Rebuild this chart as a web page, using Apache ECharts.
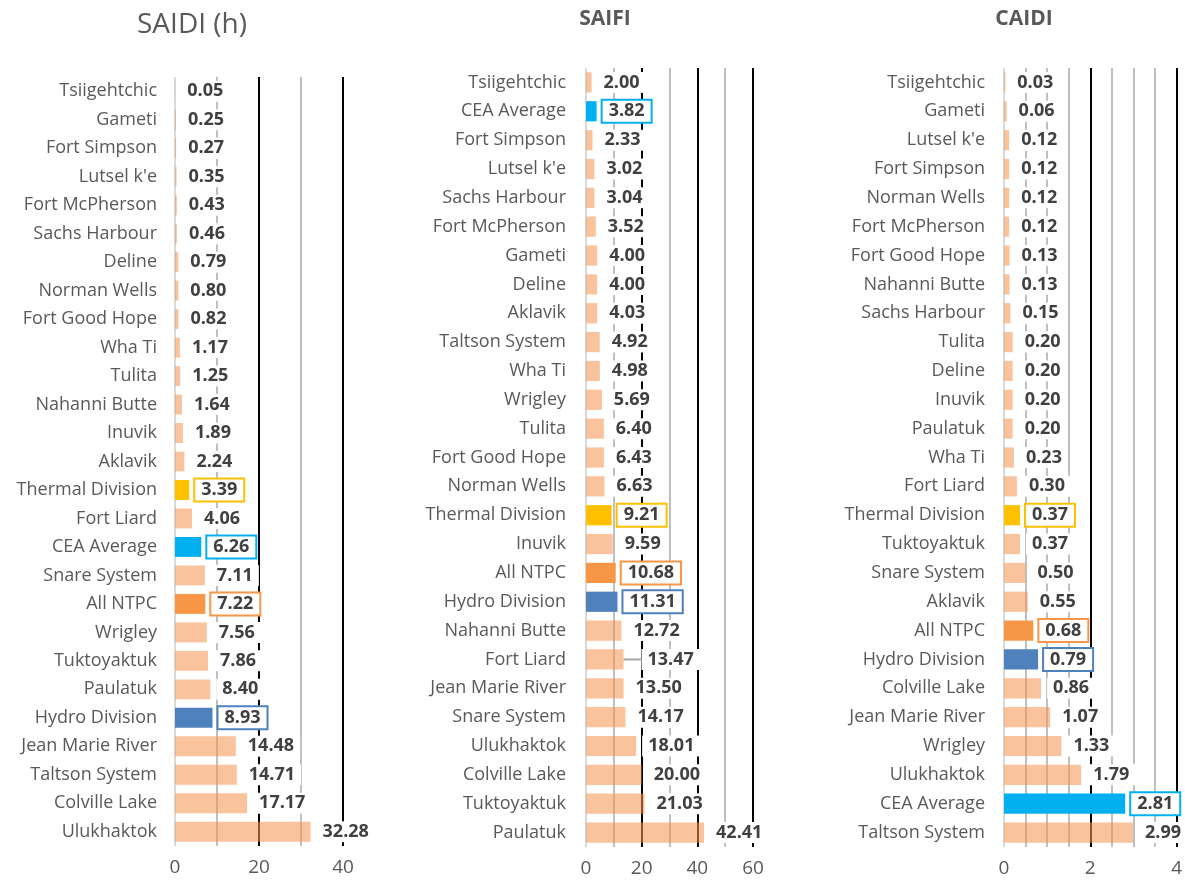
<!DOCTYPE html>
<html>
<head>
<meta charset="utf-8">
<script src="https://cdn.jsdelivr.net/npm/echarts@6/dist/echarts.min.js"></script>
<style>
html,body{margin:0;padding:0;background:#fff;}
#c{width:1185px;height:882px;}
</style>
</head>
<body>
<div id="c"></div>
<script>
// ---- Data ----
const saidiCategories = ["Tsiigehtchic","Gameti","Fort Simpson","Lutsel k'e","Fort McPherson","Sachs Harbour","Deline","Norman Wells","Fort Good Hope","Wha Ti","Tulita","Nahanni Butte","Inuvik","Aklavik","Thermal Division","Fort Liard","CEA Average","Snare System","All NTPC","Wrigley","Tuktoyaktuk","Paulatuk","Hydro Division","Jean Marie River","Taltson System","Colville Lake","Ulukhaktok"];
const saidiValues = [0.05,0.25,0.27,0.35,0.43,0.46,0.79,0.80,0.82,1.17,1.25,1.64,1.89,2.24,3.39,4.06,6.26,7.11,7.22,7.56,7.86,8.40,8.93,14.48,14.71,17.17,32.28];

const saifiCategories = ["Tsiigehtchic","CEA Average","Fort Simpson","Lutsel k'e","Sachs Harbour","Fort McPherson","Gameti","Deline","Aklavik","Taltson System","Wha Ti","Wrigley","Tulita","Fort Good Hope","Norman Wells","Thermal Division","Inuvik","All NTPC","Hydro Division","Nahanni Butte","Fort Liard","Jean Marie River","Snare System","Ulukhaktok","Colville Lake","Tuktoyaktuk","Paulatuk"];
const saifiValues = [2.00,3.82,2.33,3.02,3.04,3.52,4.00,4.00,4.03,4.92,4.98,5.69,6.40,6.43,6.63,9.21,9.59,10.68,11.31,12.72,13.47,13.50,14.17,18.01,20.00,21.03,42.41];

const caidiCategories = ["Tsiigehtchic","Gameti","Lutsel k'e","Fort Simpson","Norman Wells","Fort McPherson","Fort Good Hope","Nahanni Butte","Sachs Harbour","Tulita","Deline","Inuvik","Paulatuk","Wha Ti","Fort Liard","Thermal Division","Tuktoyaktuk","Snare System","Aklavik","All NTPC","Hydro Division","Colville Lake","Jean Marie River","Wrigley","Ulukhaktok","CEA Average","Taltson System"];
const caidiValues = [0.03,0.06,0.12,0.12,0.12,0.12,0.13,0.13,0.15,0.20,0.20,0.20,0.20,0.23,0.30,0.37,0.37,0.50,0.55,0.68,0.79,0.86,1.07,1.33,1.79,2.81,2.99];

const saidiTicks = [0, 20, 40];
const saifiTicks = [0, 20, 40, 60];
const caidiTicks = [0, 2, 4];

// ---- Styles ----
const highlightColors = {
  "Thermal Division": "#FFC000",
  "CEA Average": "#00B0F0",
  "All NTPC": "#F79646",
  "Hydro Division": "#4F81BD"
};
const baseBar = "rgba(244,150,82,0.57)";
const FONT = "Open Sans";
const G = "#bfbfbf", K = "#000000", Z = "#d9d9d9";

function buildData(cats, vals, nudgeName) {
  return vals.map((v, i) => {
    const name = cats[i];
    const hc = highlightColors[name];
    if (hc) {
      return {
        value: v,
        itemStyle: { color: hc },
        label: { borderColor: hc, borderWidth: 2 }
      };
    }
    if (name === nudgeName) {
      return { value: v, labelLine: { show: true, lineStyle: { color: "#a6a6a6", width: 2 } } };
    }
    return { value: v };
  });
}

function series(idx, cats, vals, nudgeName) {
  const nudgeIdx = cats.indexOf(nudgeName);
  return {
    type: "bar",
    xAxisIndex: idx,
    yAxisIndex: idx,
    barWidth: "70%",
    itemStyle: { color: baseBar },
    label: {
      show: true,
      position: "right",
      distance: 6,
      formatter: p => p.value.toFixed(2),
      fontFamily: FONT,
      fontWeight: "bold",
      fontSize: 18,
      color: "#404040",
      backgroundColor: "#ffffff",
      padding: [2, 6, 1, 6]
    },
    labelLine: { show: false },
    labelLayout: function (p) {
      if (p.dataIndex === nudgeIdx) return { dx: 12 };
      return {};
    },
    data: buildData(cats, vals, nudgeName),
    z: 2
  };
}

function xAxis(idx, max, interval, ticks, colors) {
  return {
    type: "value",
    gridIndex: idx,
    min: 0,
    max: max,
    interval: interval,
    axisLine: { show: false },
    axisTick: { show: false },
    axisLabel: {
      fontFamily: FONT, fontSize: 19, color: "#595959", margin: 12,
      formatter: v => ticks.some(t => Math.abs(t - v) < 1e-9) ? String(v) : ""
    },
    splitLine: { show: true, lineStyle: { color: colors, width: 2 } }
  };
}

function yAxis(idx, cats, margin) {
  return {
    type: "category",
    gridIndex: idx,
    inverse: true,
    data: cats,
    axisLine: { show: false },
    axisTick: { show: false },
    axisLabel: { fontFamily: FONT, fontSize: 18, color: "#595959", margin: margin, interval: 0 }
  };
}

const chart = echarts.init(document.getElementById("c"), null, { renderer: "canvas" });
chart.setOption({
  animation: false,
  backgroundColor: "#ffffff",
  title: [
    { text: "SAIDI (h)", left: 187, top: 6, textAlign: "center",
      textStyle: { fontFamily: FONT, fontSize: 28, fontWeight: "normal", color: "#595959" } },
    { text: "SAIFI", left: 600, top: 4, textAlign: "center",
      textStyle: { fontFamily: FONT, fontSize: 21, fontWeight: "bold", color: "#595959" } },
    { text: "CAIDI", left: 1019, top: 4, textAlign: "center",
      textStyle: { fontFamily: FONT, fontSize: 21, fontWeight: "bold", color: "#595959" } }
  ],
  grid: [
    { left: 175, width: 168, top: 77, height: 769 },
    { left: 586, width: 167, top: 68, height: 779 },
    { left: 1004, width: 173, top: 68, height: 779 }
  ],
  xAxis: [
    xAxis(0, 40, 10, saidiTicks, [Z, G, K, G, K]),
    xAxis(1, 60, 10, saifiTicks, [Z, G, K, G, K, G, K]),
    xAxis(2, 4, 0.5, caidiTicks, [Z, G, G, G, K, G, G, G, K])
  ],
  yAxis: [
    yAxis(0, saidiCategories, 18),
    yAxis(1, saifiCategories, 20),
    yAxis(2, caidiCategories, 19)
  ],
  series: [
    series(0, saidiCategories, saidiValues, null),
    series(1, saifiCategories, saifiValues, "Fort Liard"),
    series(2, caidiCategories, caidiValues, null)
  ]
});
</script>
</body>
</html>
